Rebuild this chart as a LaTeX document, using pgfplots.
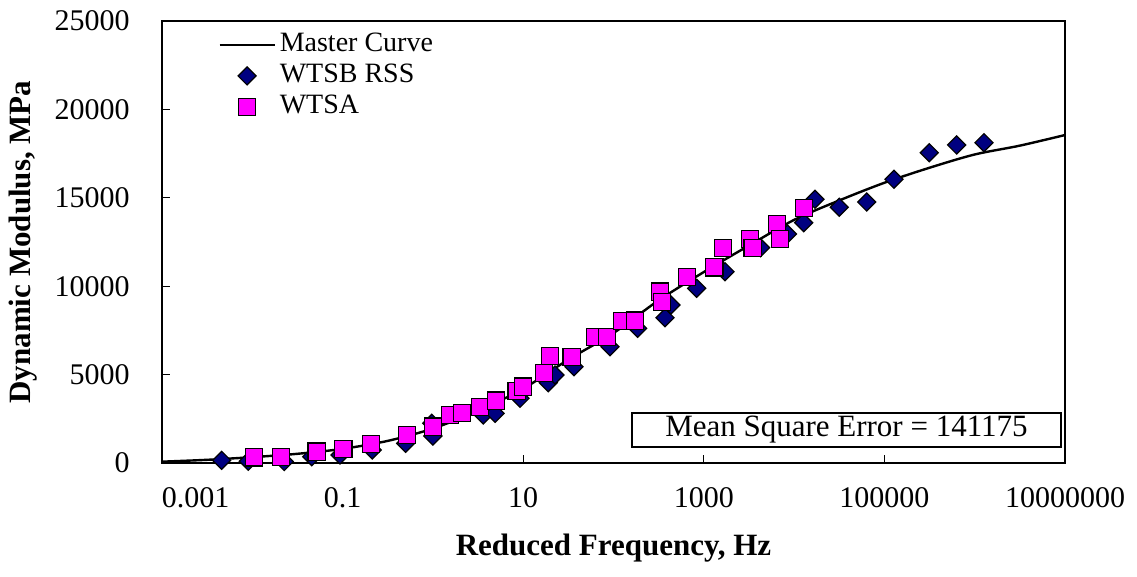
\documentclass[border=0pt]{standalone}
\usepackage{fontspec}
\setmainfont{Liberation Serif}
\usepackage{pgfplots}
\pgfplotsset{compat=1.18}

\definecolor{wtsb}{RGB}{0,0,128}
\definecolor{wtsa}{RGB}{255,0,255}

\begin{document}
\fontsize{15}{18}\selectfont
\begin{tikzpicture}
\useasboundingbox (-81pt,-57pt) rectangle (487.5pt,231.5pt);
\begin{axis}[
  at={(0,0)}, anchor=south west,
  scale only axis, width=451.5pt, height=221pt,
  xmode=log, xmin=1e-3, xmax=1e7,
  ymin=0, ymax=25000,
  scaled y ticks=false,
  xtick={1e-3,1e-1,1e1,1e3,1e5,1e7},
  xticklabels={\hphantom{0.001}0.001,0.1,10,1000,100000,10000000},
  ytick={0,5000,10000,15000,20000,25000},
  yticklabels={0,5000,10000,15000,20000,25000},
  xminorticks=false, yminorticks=false,
  xtick pos=bottom, ytick pos=left,
  tick align=inside, major tick length=4pt,
  tick style={line width=0.5pt, black},
  axis line style={line width=1.2pt},
  yticklabel style={xshift=-11pt},
  xticklabel style={yshift=-7pt},
  xlabel={\textbf{Reduced Frequency, Hz}},
  ylabel={\textbf{Dynamic Modulus, MPa}},
  xlabel style={at={(axis description cs:0.5,-0.192)}, anchor=center, font=\fontsize{15.5}{18}\selectfont},
  ylabel style={at={(axis description cs:-0.154,0.5)}, anchor=center, font=\fontsize{15.5}{18}\selectfont},
  legend style={draw=none, fill=none, at={(0.062,0.982)}, anchor=north west,
    font=\fontsize{14}{16}\selectfont, inner sep=0pt, row sep=0pt,
    nodes={inner sep=2pt}},
  legend cell align=left,
  legend image code/.code={\draw[mark repeat=2,mark phase=2,#1] plot coordinates {(0pt,0pt) (13.75pt,0pt) (27.5pt,0pt)};},
]
% master curve
\addplot[black, line width=1.2pt, smooth, no markers] table {
x y
0.001 75
0.003162 180
0.01 330
0.03162 520
0.1 800
0.3162 1250
1 1950
3.162 2950
10 4200
31.62 5850
100 7350
316.2 9200
1000 10800
3162 12300
10000 13750
31623 14850
100000 15850
316228 16700
1000000 17450
3162278 17950
10000000 18550
};
\addlegendentry{Master Curve}
% WTSB RSS
\addplot[only marks, mark=square*, mark size=3.2pt,
  mark options={rotate=45, fill=wtsb, draw=black, line width=0.6pt}] table {
x y
0.00458 150
0.00904 100
0.0226 80
0.0455 356
0.0935 452
0.213 735
0.500 1112
0.971 2245
1.00 1527
3.61 2715
4.88 2811
9.22 3660
18.97 4542
22.5 4977
36.5 5447
91.4 6578
185 7619
372 8218
433 8937
834 9881
1718 10820
4250 12178
8450 12952
12770 13592
17020 14915
31620 14463
63680 14762
127600 16046
314100 17551
631000 17987
1268000 18117
};
\addlegendentry{WTSB RSS}
% WTSA
\addplot[only marks, mark=square*, mark size=4.3pt,
  mark options={fill=wtsa, draw=black, line width=0.6pt}] table {
x y
0.01052 322
0.0208 356
0.0516 639
0.1019 775
0.206 1058
0.513 1584
1.009 2053
1.545 2715
2.085 2811
3.327 3184
5.00 3524
8.47 4089
10.02 4316
17.0 5074
19.8 6052
34.4 6012
62.4 7110
84.7 7110
124 8015
173 8049
327 9689
344 9123
647 10537
1312 11058
1633 12161
3251 12653
3475 12144
6516 13518
6982 12653
12880 14406
};
\addlegendentry{WTSA}
\node[draw, line width=0.6pt, fill=white, minimum width=214.5pt, minimum height=17pt,
  inner sep=0pt, font=\fontsize{15.5}{18}\selectfont] at (rel axis cs:0.758,0.0747)
  {Mean Square Error = 141175};
\end{axis}
\end{tikzpicture}
\end{document}
